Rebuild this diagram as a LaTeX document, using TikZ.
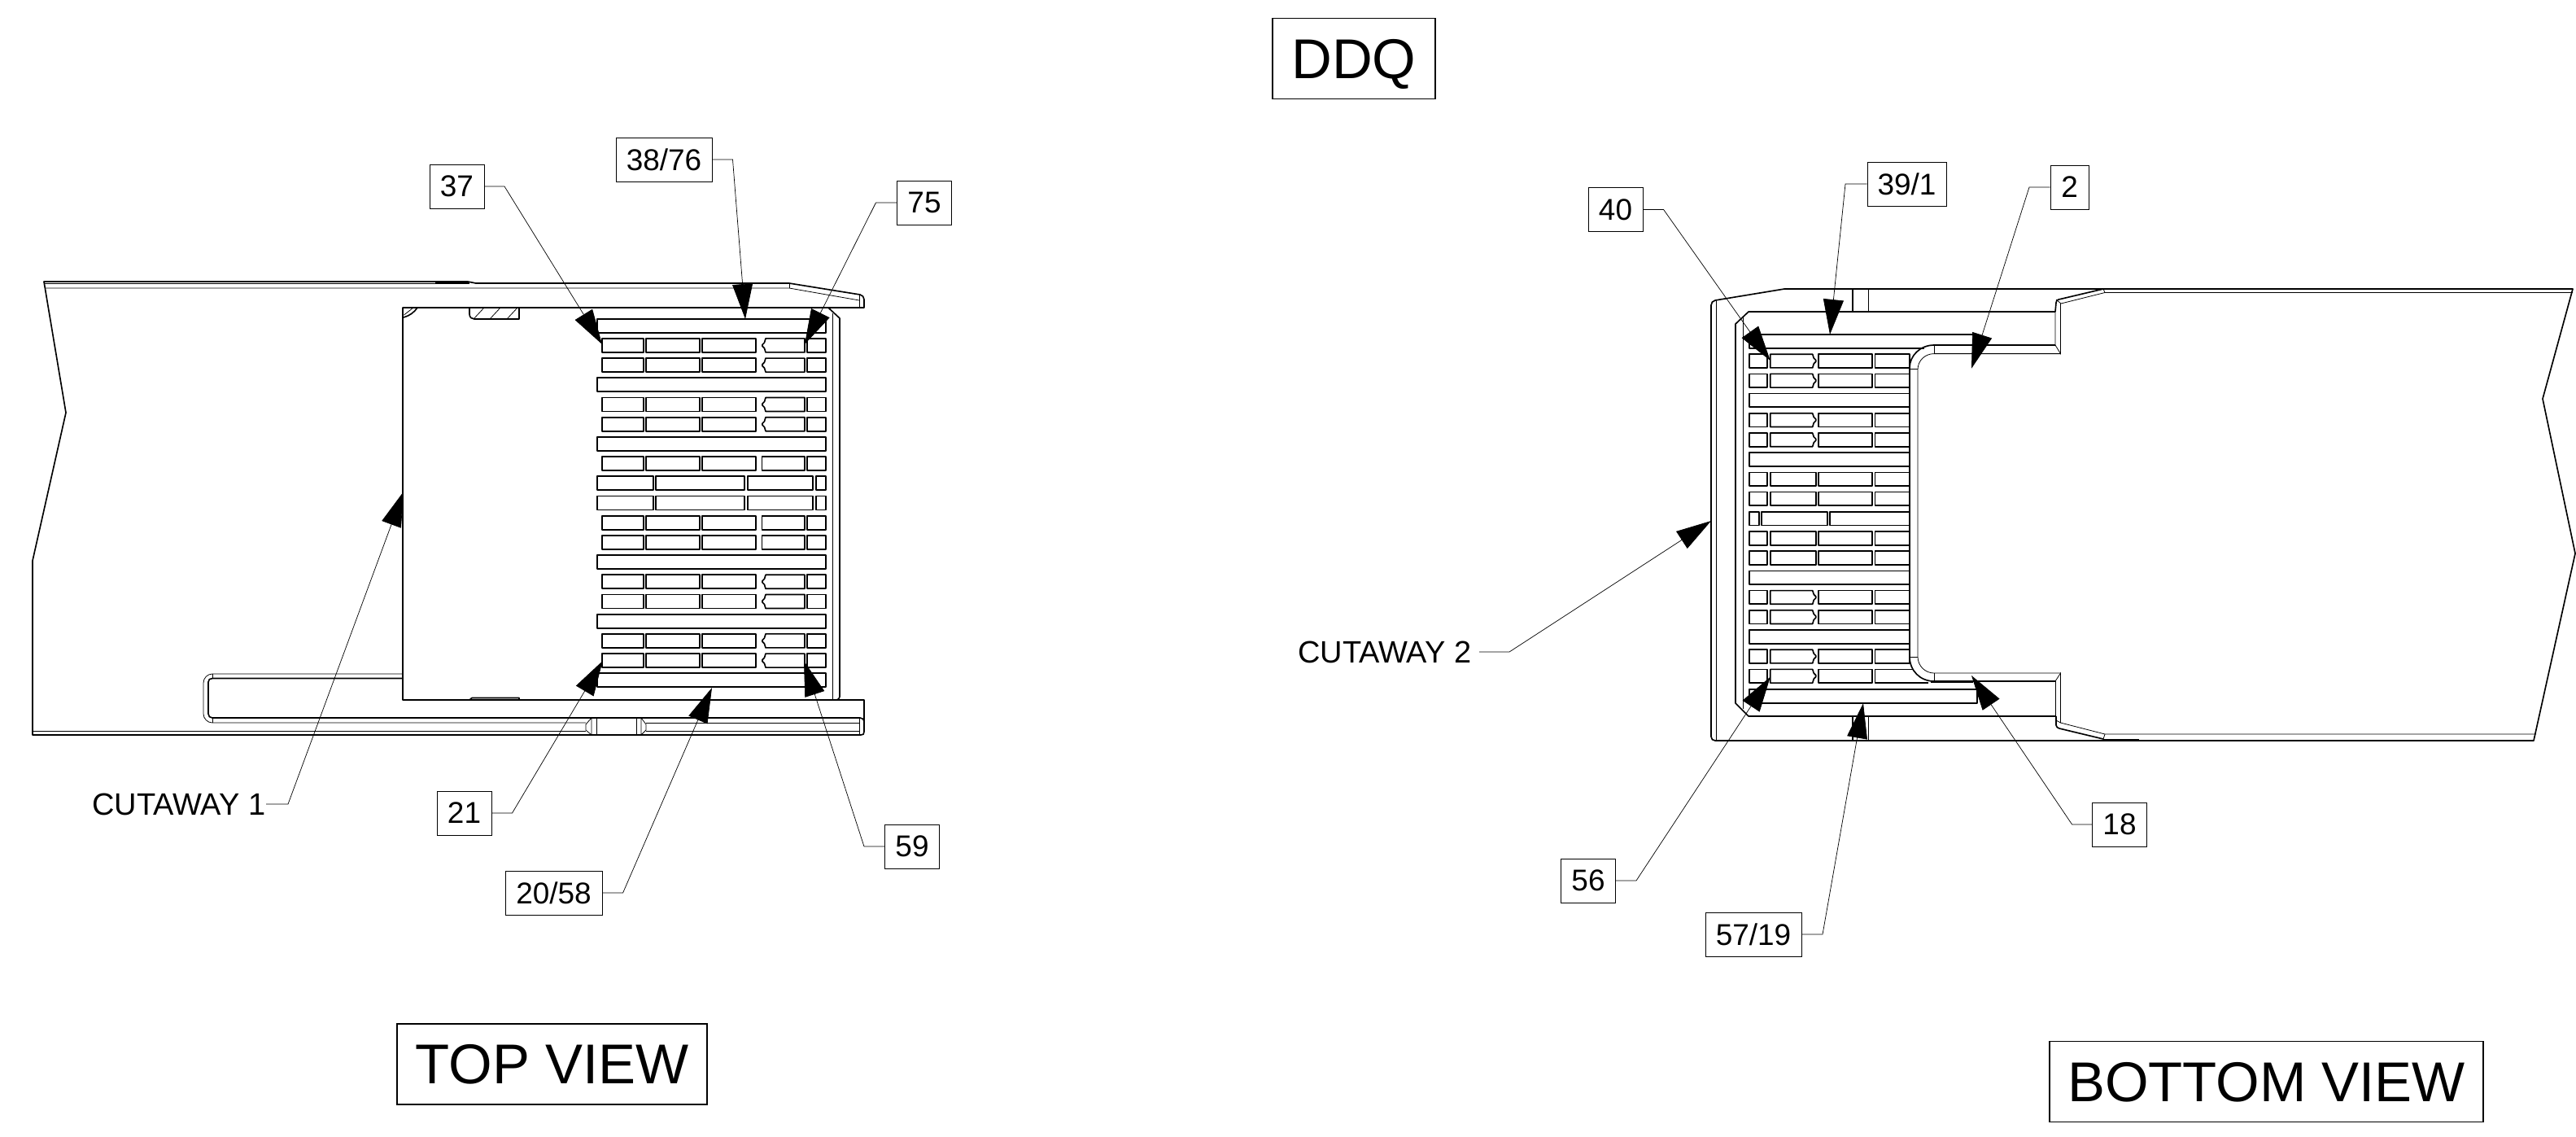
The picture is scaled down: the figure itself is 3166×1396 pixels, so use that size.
\documentclass[tikz,border=0pt]{standalone}
\usepackage{fontspec}
\setmainfont{Liberation Sans}
\usetikzlibrary{arrows.meta}

\begin{document}
\begin{tikzpicture}[x=0.01cm,y=-0.01cm,font=\fontsize{10.5}{12}\selectfont]
	\tikzset{
		part/.style={line width=0.47pt,line join=round},
		edge/.style={line width=0.22pt},
		leader/.style={line width=0.2pt,-{Triangle[length=4.3mm,width=2.5mm]}},
		callout/.style={rectangle, draw=black, line width=0.25pt, minimum width=0.67cm, minimum height=0.54cm, inner sep=0pt, text depth=0pt, text centered},
		viewbox/.style={rectangle, draw=black, line width=0.4pt, minimum height=0.99cm, inner sep=0pt, text depth=0pt, text centered, font=\fontsize{19.6}{22}\selectfont},
	}
	\useasboundingbox (0,0) rectangle (3166,1396);
	%Top view body
	\draw[part] (970,348) -- (585,348) -- (575,346) -- (54,346) -- (81,507) -- (40,689) -- (40,903) -- (1058,903) .. controls (1061,903) and (1062,902) .. (1062,899) -- (1062,860) -- (495,860) -- (495,378) -- (1057,378);
	\draw[part] (970,348) -- (1057,362) .. controls (1060,362.5) and (1062,365) .. (1062,368) -- (1062,378) -- (1057,378);
	\draw[edge] (55,348.5) -- (535,348.5);
	\draw[part] (535,348) -- (577,348);
	\draw[edge] (55,354) -- (970,354) -- (1056,369);
	\draw[edge] (970,348) -- (970,354);
	\draw[edge] (1056,362) -- (1056,378);
	\draw[edge] (40,898) -- (720,898);
	\draw[edge] (794,898) -- (1056,898);
	%Top view slot
	\draw[edge] (495,828) -- (261,828) .. controls (255,828) and (250,833) .. (250,839) -- (250,877) .. controls (250,883) and (255,888) .. (261,888) -- (720,888);
	\draw[edge] (794,888) -- (1056,888);
	\draw[part] (495,833.5) -- (261,833.5) .. controls (258,833.5) and (256,835) .. (256,838) -- (256,877) .. controls (256,880) and (258,882) .. (261,882) -- (1057,882) .. controls (1060,882) and (1062,884) .. (1062,886);
	\draw[edge] (261,828) -- (261,833.5);
	\draw[edge] (261,882) -- (261,888);
	\draw[edge] (1056,882) -- (1056,903);
	\draw[edge] (727,882) -- (720,890) -- (720,897) -- (727,903) -- cycle;
	\draw[edge] (733,882) -- (733,903);
	\draw[edge] (782,882) -- (782,903);
	\draw[edge] (788,882) -- (794,890) -- (794,897) -- (788,903) -- cycle;
	%Top view pocket and wall
	\draw[part] (577,378) -- (577,386) .. controls (577,390) and (580,392) .. (583,392) -- (638,392) -- (638,378);
	\foreach \x in {582,602,623} \draw[edge] (\x,392) -- ++(13,-14);
	\draw[part] (496,390) .. controls (503,388) and (509,384) .. (513,378);
	\draw[edge] (496.5,387) -- (508,378);
	\draw[part] (577,860) -- (580,857.5) -- (638,857.5) -- (638,860);
	\draw[part] (1018,378) -- (1032,391) -- (1032,856) .. controls (1032,858) and (1030,860) .. (1028,860);
	\draw[edge] (1023,385) -- (1023,860);
	%Top view grid
	\foreach \k in {0,3,6,12,15,18} \draw[part] (734,{391.7+24.2*\k}) rectangle ++(281,17);
	\foreach \k in {1,2,4,5,7,10,11,13,14,16,17}
		\foreach \a/\b in {740/791,794/860,863/929,992/1015}
			\draw[part] (\a,{391.7+24.2*\k}) rectangle (\b,{408.7+24.2*\k});
	\foreach \k in {7,10,11} \draw[part] (936.5,{391.7+24.2*\k}) rectangle (989,{408.7+24.2*\k});
	\foreach \k in {8,9}
		\foreach \a/\b in {734/803,806/915,919/999,1003/1015}
			\draw[part] (\a,{391.7+24.2*\k}) rectangle (\b,{408.7+24.2*\k});
	\foreach \k in {1,2,4,5,13,14,16,17}
		\draw[part] (941,{391.7+24.2*\k}) -- ++(48,0) -- ++(0,17) -- ++(-48,0) -- ++(-1.5,-5) -- ++(-2.5,-2.5) -- ++(0,-2) -- ++(2.5,-2.5) -- cycle;
	%Bottom view body
	\draw[part] (3125,490) -- (3162,355) -- (2193,355) -- (2108,369) .. controls (2105,369.5) and (2103,372) .. (2103,375) -- (2103,905) .. controls (2103,908) and (2105,910) .. (2108,910) -- (3114,910) -- (3165,680) -- (3125,490);
	\draw[edge] (2109,369) -- (2109,910);
	\draw[part] (2277,355) -- (2277,383);
	\draw[edge] (2296,355) -- (2296,383);
	\draw[part] (2277,880) -- (2277,910);
	\draw[edge] (2296,880) -- (2296,910);
	\draw[part] (2526,383) -- (2149,383) -- (2133,398) -- (2133,864) -- (2149,880) -- (2527,880);
	\draw[edge] (2142,390) -- (2142,871);
	%Bottom view opening
	\draw[part] (2526,424) -- (2377,424) .. controls (2360,424) and (2347,437) .. (2347,452) -- (2347,807) .. controls (2347,824) and (2360,837) .. (2377,837) -- (2526,837);
	\draw[edge] (2532.5,434.6) -- (2377,434.6) .. controls (2366,434.6) and (2357,443) .. (2357,454) -- (2357,807) .. controls (2357,818) and (2366,827) .. (2377,827) -- (2532.5,827);
	\draw[edge] (2377,424) -- (2377,434.6);
	\draw[edge] (2377,827) -- (2377,837);
	\draw[edge] (2347,453) -- (2357,453);
	\draw[edge] (2347,807) -- (2357,807);
	\draw[part] (2526,383) -- (2527,372) .. controls (2527,370) and (2528,368.5) .. (2530,368) -- (2585,355);
	\draw[edge] (2533,373) -- (2587,359.5) -- (3162,359.5);
	\draw[edge] (2585,355) -- (2587,359.5);
	\draw[edge] (2527,368) -- (2533,373);
	\draw[edge] (2532.5,373) -- (2532.5,434.6) -- (2526,424) -- (2526,383);
	\draw[part] (2527,880) -- (2527,891) .. controls (2527,893) and (2529,894.5) .. (2531,895) -- (2585,908);
	\draw[edge] (2526,837) -- (2526,881);
	\draw[edge] (2526,837) -- (2532.5,827) -- (2532.5,888) -- (2587,902) -- (3117,902);
	\draw[edge] (2585,908) -- (2587,902);
	\draw[edge] (2527,885) -- (2532.5,888);
	\draw[part] (2585,909) -- (2629,909);
	%Bottom view grid
	\draw[part] (2365,427.7) -- (2150,427.7) -- (2150,411) -- (2430,411) -- (2430,424);
	\draw[part] (2150,847) rectangle (2430,863.7);
	\foreach \k in {3,6,12,15} \draw[part] (2150,{411+24.2*\k}) rectangle (2347,{427.7+24.2*\k});
	\foreach \k in {1,2,4,5,7,8,10,11,13,14,16}
		\foreach \a/\b in {2150/2172.3,2235/2301,2304.3/2347}
			\draw[part] (\a,{411+24.2*\k}) rectangle (\b,{427.7+24.2*\k});
	\foreach \a/\b in {2150/2172.3,2235/2301} \draw[part] (\a,822.4) rectangle (\b,839);
	\draw[part] (2351,822.4) -- (2304.3,822.4) -- (2304.3,839) -- (2370,839);
	\draw[part] (2373,838) -- (2425,838);
	\foreach \k in {7,8,10,11} \draw[part] (2175.7,{411+24.2*\k}) rectangle (2232,{427.7+24.2*\k});
	\foreach \a/\b in {2150/2161.7,2165/2245.7,2249/2347} \draw[part] (\a,628.8) rectangle (\b,645.5);
	\foreach \k in {1,2,4,5,13,14,16,17}
		\draw[part] (2227.7,{411+24.2*\k}) -- ++(-52,0) -- ++(0,16.7) -- ++(52,0) -- ++(1.5,-5) -- ++(2.5,-2.5) -- ++(0,-2) -- ++(-2.5,-2.5) -- cycle;
	%Labels
	\node[viewbox, minimum width=2cm](ddq) at (1664,72) {DDQ};
	\node[viewbox, minimum width=3.81cm](topview) at (678.5,1307.5) {TOP VIEW};
	\node[viewbox, minimum width=5.33cm](bottomview) at (2785.5,1329) {BOTTOM VIEW};
	\node[callout](box37) at (561.5,229) {37};
	\node[callout, minimum width=1.18cm](box3876) at (816,196) {38/76};
	\node[callout](box75) at (1136,249) {75};
	\node[callout](box21) at (570.5,999) {21};
	\node[callout, minimum width=1.19cm](box2058) at (680.5,1097) {20/58};
	\node[callout](box59) at (1121,1040) {59};
	\node[callout](box40) at (1985.5,257.5) {40};
	\node[callout, minimum width=0.97cm](box391) at (2343.5,226) {39/1};
	\node[callout, minimum width=0.47cm](box2) at (2543.5,230) {2};
	\node[callout](box56) at (1952,1082) {56};
	\node[callout, minimum width=1.18cm](box5719) at (2155,1148) {57/19};
	\node[callout](box18) at (2605,1013) {18};
	\node[inner sep=0pt, anchor=east, font=\fontsize{10.8}{12}\selectfont](cutaway1) at (327,988) {CUTAWAY 1};
	\node[inner sep=0pt, anchor=east, font=\fontsize{10.8}{12}\selectfont](cutaway2) at (1809,801) {CUTAWAY 2};
	%Leader points
	\coordinate (elbow37) at (620,229); \coordinate (tip37) at (740,423);
	\coordinate (elbow3876) at (900.5,196); \coordinate (tip3876) at (916,392);
	\coordinate (elbow75) at (1076.5,249); \coordinate (tip75) at (989,423);
	\coordinate (elbow21) at (629.5,999); \coordinate (tip21) at (740.7,812);
	\coordinate (elbow2058) at (765.6,1097); \coordinate (tip2058) at (875,845);
	\coordinate (elbow59) at (1062,1040); \coordinate (tip59) at (988,812);
	\coordinate (elbow40) at (2044.6,257.5); \coordinate (tip40) at (2175.7,443);
	\coordinate (elbow391) at (2268,226); \coordinate (tip391) at (2249,411);
	\coordinate (elbow2) at (2494,230); \coordinate (tip2) at (2423,452.7);
	\coordinate (elbow56) at (2011,1082); \coordinate (tip56) at (2175.7,831.7);
	\coordinate (elbow5719) at (2240,1148); \coordinate (tip5719) at (2290,864);
	\coordinate (elbow18) at (2546.6,1013); \coordinate (tip18) at (2423,830);
	\coordinate (elbowcut1) at (354,988); \coordinate (tipcut1) at (496,604);
	\coordinate (elbowcut2) at (1855,801); \coordinate (tipcut2) at (2103,640);
	%Draw arrows
	\draw[leader] (box37.east) -- (elbow37) -- (tip37);
	\draw[leader] (box3876.east) -- (elbow3876) -- (tip3876);
	\draw[leader] (box75.west) -- (elbow75) -- (tip75);
	\draw[leader] (box21.east) -- (elbow21) -- (tip21);
	\draw[leader] (box2058.east) -- (elbow2058) -- (tip2058);
	\draw[leader] (box59.west) -- (elbow59) -- (tip59);
	\draw[leader] (box40.east) -- (elbow40) -- (tip40);
	\draw[leader] (box391.west) -- (elbow391) -- (tip391);
	\draw[leader] (box2.west) -- (elbow2) -- (tip2);
	\draw[leader] (box56.east) -- (elbow56) -- (tip56);
	\draw[leader] (box5719.east) -- (elbow5719) -- (tip5719);
	\draw[leader] (box18.west) -- (elbow18) -- (tip18);
	\draw[leader] (cutaway1.east) -- (elbowcut1) -- (tipcut1);
	\draw[leader, shorten <=0.09cm] (cutaway2.east) -- (elbowcut2) -- (tipcut2);
\end{tikzpicture}
\end{document}
